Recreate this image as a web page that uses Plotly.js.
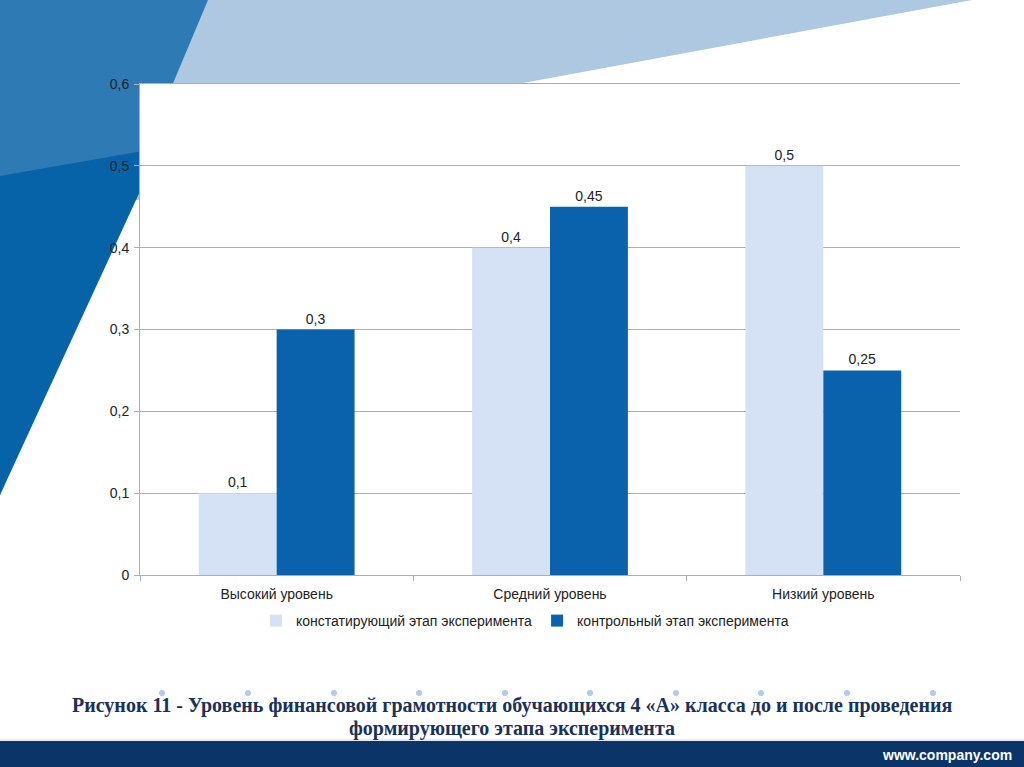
<!DOCTYPE html>
<html>
<head>
<meta charset="utf-8">
<script src="https://cdn.plot.ly/plotly-3.0.1.min.js"></script>
<style>
html,body{margin:0;padding:0;background:#fff;}
#chart{width:1024px;height:767px;}
</style>
</head>
<body>
<div id="chart"></div>
<script>
// ---- data ----
var categories = ['Высокий уровень', 'Средний уровень', 'Низкий уровень'];
var seriesNames = ['констатирующий этап эксперимента', 'контрольный этап эксперимента'];
var stageBefore = [0.1, 0.4, 0.5];
var stageAfter = [0.3, 0.45, 0.25];
var yTicks = [0, 0.1, 0.2, 0.3, 0.4, 0.5, 0.6];
var captionLines = ['Рисунок 11 - Уровень финансовой грамотности обучающихся 4 «А» класса до и после проведения', 'формирующего этапа эксперимента'];
var footerText = 'www.company.com';

function fmt(v){ return String(v).replace('.', ','); }

// ---- layout geometry (pixels) ----
var W = 1024, H = 767;
var M = {l:140, r:64, t:84, b:192};
var pw = W - M.l - M.r, ph = H - M.t - M.b;
function px(x){ return (x - M.l) / pw; }
function py(y){ return (H - M.b - y) / ph; }
function path(pts){
  return pts.map(function(p,i){ return (i? 'L':'M') + px(p[0]) + ',' + py(p[1]); }).join(' ') + ' Z';
}

var FONT = '"Liberation Sans", Arial, sans-serif';
var SERIF = '"Liberation Serif", "Times New Roman", serif';

var shapes = [
  // light blue band
  {type:'path', xref:'paper', yref:'paper', layer:'below', line:{width:0}, fillcolor:'#adc8e0',
   path: path([[100,0],[972,0],[523,83],[300,200],[0,200]])},
  // medium blue triangle
  {type:'path', xref:'paper', yref:'paper', layer:'below', line:{width:0}, fillcolor:'#2e7ab5',
   path: path([[0,0],[208,0],[0,495]])},
  // dark blue lower part
  {type:'path', xref:'paper', yref:'paper', layer:'below', line:{width:0}, fillcolor:'#0663a8',
   path: path([[0,176],[160,148],[0,495]])},
  // white plot area
  {type:'rect', xref:'paper', yref:'paper', layer:'below', line:{width:0}, fillcolor:'#ffffff',
   x0:0, x1:1, y0:0, y1:1},
  // footer bar
  {type:'rect', xref:'paper', yref:'paper', layer:'below', line:{width:0}, fillcolor:'#0b3468',
   x0:px(0), x1:px(W), y0:py(H), y1:py(741)},
  {type:'line', xref:'paper', yref:'paper', layer:'below', line:{width:1, color:'#c9d3e0'},
   x0:px(0), x1:px(W), y0:py(740), y1:py(740)}
];
var dotX = [162, 248, 334, 419, 505, 590, 676, 761, 847, 933];
dotX.forEach(function(x){
  shapes.push({type:'circle', xref:'paper', yref:'paper', layer:'below', line:{width:0}, fillcolor:'#b3cbe8',
    x0:px(x-3), x1:px(x+3), y0:py(696), y1:py(690)});
});

var traces = [
  {type:'bar', name:seriesNames[0], x:categories, y:stageBefore,
   marker:{color:'#d5e2f5'}, text:stageBefore.map(fmt), textposition:'outside',
   textfont:{family:FONT, size:14, color:'#222'}, cliponaxis:false, hoverinfo:'none'},
  {type:'bar', name:seriesNames[1], x:categories, y:stageAfter,
   marker:{color:'#0a62ad'}, text:stageAfter.map(fmt), textposition:'outside',
   textfont:{family:FONT, size:14, color:'#222'}, cliponaxis:false, hoverinfo:'none'}
];

var layout = {
  width:W, height:H,
  margin:M,
  paper_bgcolor:'#ffffff', plot_bgcolor:'rgba(0,0,0,0)',
  separators:',.',
  barmode:'group', bargap:0.43, bargroupgap:0,
  font:{family:FONT, size:14, color:'#222'},
  showlegend:true,
  legend:{orientation:'h', x:px(256), xanchor:'left', y:py(621), yanchor:'middle',
    font:{family:FONT, size:14, color:'#222'}, bgcolor:'rgba(0,0,0,0)', itemwidth:30},
  xaxis:{type:'category', showgrid:false, showline:true, mirror:true, linecolor:'#a9abbe', linewidth:1,
    ticks:'outside', tickson:'boundaries', ticklen:5, tickcolor:'#a9abbe', ticklabelstandoff:6,
    tickfont:{family:FONT, size:14, color:'#222'}, fixedrange:true},
  yaxis:{range:[0,0.6], tickvals:yTicks, ticktext:yTicks.map(fmt), showgrid:true, gridcolor:'#a9abbe', gridwidth:1,
    showline:true, linecolor:'#a9abbe', linewidth:1, ticks:'outside', ticklen:5, tickcolor:'#a9abbe',
    ticklabelstandoff:2,
    zeroline:false, tickfont:{family:FONT, size:14, color:'#222'}, fixedrange:true},
  shapes:shapes,
  annotations:[
    {xref:'paper', yref:'paper', x:px(512), y:py(705), xanchor:'center', yanchor:'middle', showarrow:false,
     text:captionLines[0], font:{family:SERIF, size:20, color:'#1a3158', weight:'bold'}},
    {xref:'paper', yref:'paper', x:px(512), y:py(729), xanchor:'center', yanchor:'middle', showarrow:false,
     text:captionLines[1], font:{family:SERIF, size:20, color:'#1a3158', weight:'bold'}},
    {xref:'paper', yref:'paper', x:px(1014), y:py(755), xanchor:'right', yanchor:'middle', showarrow:false,
     text:footerText, font:{family:FONT, size:14, color:'#ffffff', weight:'bold'}}
  ]
};

Plotly.newPlot('chart', traces, layout, {displayModeBar:false, staticPlot:true});
</script>
</body>
</html>
